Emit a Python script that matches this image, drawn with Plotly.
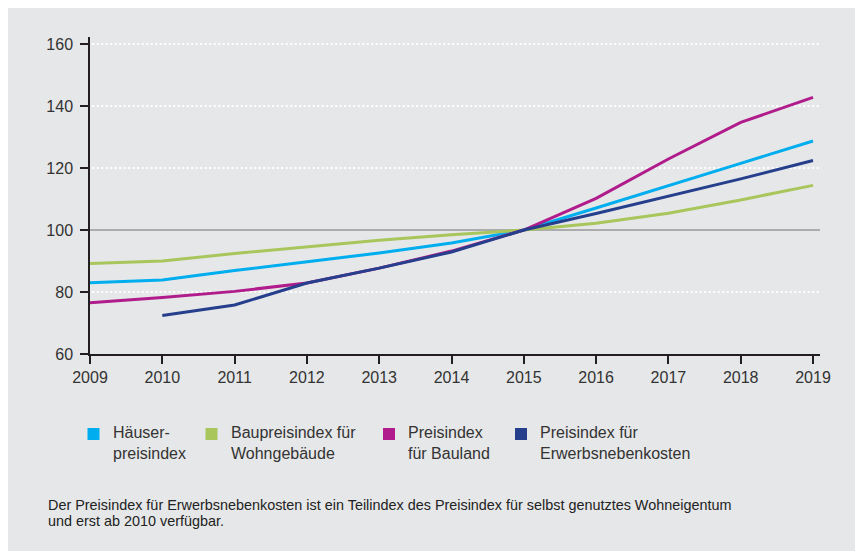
import plotly.graph_objects as go

years = [2009, 2010, 2011, 2012, 2013, 2014, 2015, 2016, 2017, 2018, 2019]

haeuser = [83.0, 83.9, 86.9, 89.7, 92.6, 95.8, 100.0, 107.1, 114.2, 121.5, 128.7]
baupreis = [89.2, 90.0, 92.4, 94.6, 96.7, 98.5, 100.0, 102.2, 105.4, 109.7, 114.4]
bauland = [76.5, 78.2, 80.2, 82.9, 87.7, 93.2, 100.0, 110.2, 122.9, 134.7, 142.8]
erwerbsneben = [None, 72.4, 75.8, 82.9, 87.7, 92.9, 100.0, 105.3, 110.8, 116.5, 122.4]

series_names = ["Häuser-<br>preisindex", "Baupreisindex für<br>Wohngebäude",
                "Preisindex<br>für Bauland", "Preisindex für<br>Erwerbsnebenkosten"]
series_values = [haeuser, baupreis, bauland, erwerbsneben]
colors = ["#00AEEF", "#A8C65C", "#B01C8B", "#263F8D"]

y_ticks = [60, 80, 100, 120, 140, 160]
grid_vals = [80, 120, 140, 160]
base_val = 100
footnote_lines = ["Der Preisindex für Erwerbsnebenkosten ist ein Teilindex des Preisindex für selbst genutztes Wohneigentum",
                  "und erst ab 2010 verfügbar."]

OFF = 8  # page body margin
W, H = 863 - OFF, 551 - OFF
L, R, T, B = 90 - OFF, 820 - OFF, 37 - OFF, 354 - OFF
PW, PH = R - L, B - T


def px(x):
    return (x - OFF - L) / PW


def py(y):
    return (B - (y - OFF)) / PH


fig = go.Figure()
for name, vals, col in zip(series_names, series_values, colors):
    fig.add_trace(go.Scatter(x=years, y=vals, mode="lines", name=name.replace("<br>", " "),
                             line=dict(color=col, width=3), showlegend=False,
                             connectgaps=False, hoverinfo="skip"))

shapes = []
for g in grid_vals:
    shapes.append(dict(type="line", xref="paper", yref="y", x0=0.003, x1=1, y0=g, y1=g,
                       line=dict(color="white", width=2, dash="2px,2.5px"), layer="below"))
shapes.append(dict(type="line", xref="paper", yref="y", x0=0, x1=1, y0=base_val, y1=base_val,
                   line=dict(color="#999999", width=1.5), layer="below"))

annotations = []
legend_sq_x = [93.5, 211.5, 389, 521]
legend_tx_x = [111, 229, 406, 538]
legend_y = 434
for name, col, sx, tx in zip(series_names, colors, legend_sq_x, legend_tx_x):
    shapes.append(dict(type="rect", xref="paper", yref="paper",
                       x0=px(sx - 6), x1=px(sx + 6), y0=py(legend_y + 6), y1=py(legend_y - 6),
                       fillcolor=col, line=dict(width=0)))
    annotations.append(dict(xref="paper", yref="paper", x=px(tx), y=py(legend_y - 12),
                            xanchor="left", yanchor="top", align="left", showarrow=False,
                            text=name, font=dict(size=16, color="#333333")))

for line, yc in zip(footnote_lines, [505, 521]):
    annotations.append(dict(xref="paper", yref="paper", x=px(46), y=py(yc),
                            xanchor="left", yanchor="middle", align="left", showarrow=False,
                            text=line, font=dict(size=14.4, color="#222222")))

fig.update_layout(
    width=W, height=H,
    margin=dict(l=L, r=W - R, t=T, b=H - B, pad=0),
    paper_bgcolor="#E6E7E8",
    plot_bgcolor="rgba(0,0,0,0)",
    font=dict(family="Liberation Sans, Arial, sans-serif", color="#333333"),
    shapes=shapes,
    annotations=annotations,
    xaxis=dict(range=[2009, 2019 + 7 / 72.3], tickmode="array", tickvals=years,
               ticktext=[str(y) for y in years], showgrid=False, zeroline=False,
               showline=True, linecolor="#231F20", linewidth=1.5,
               ticks="outside", ticklen=8, tickwidth=1.5, tickcolor="#231F20",
               tickfont=dict(size=16, color="#333333")),
    yaxis=dict(range=[60, 160 + 7 / 3.1], tickmode="array", tickvals=y_ticks,
               showgrid=False, zeroline=False, showline=True, linecolor="#231F20", linewidth=1.5,
               ticks="outside", ticklen=8, tickwidth=1.5, tickcolor="#231F20",
               tickfont=dict(size=16, color="#333333"), ticklabelstandoff=4),
)

fig.write_html("out.html")
